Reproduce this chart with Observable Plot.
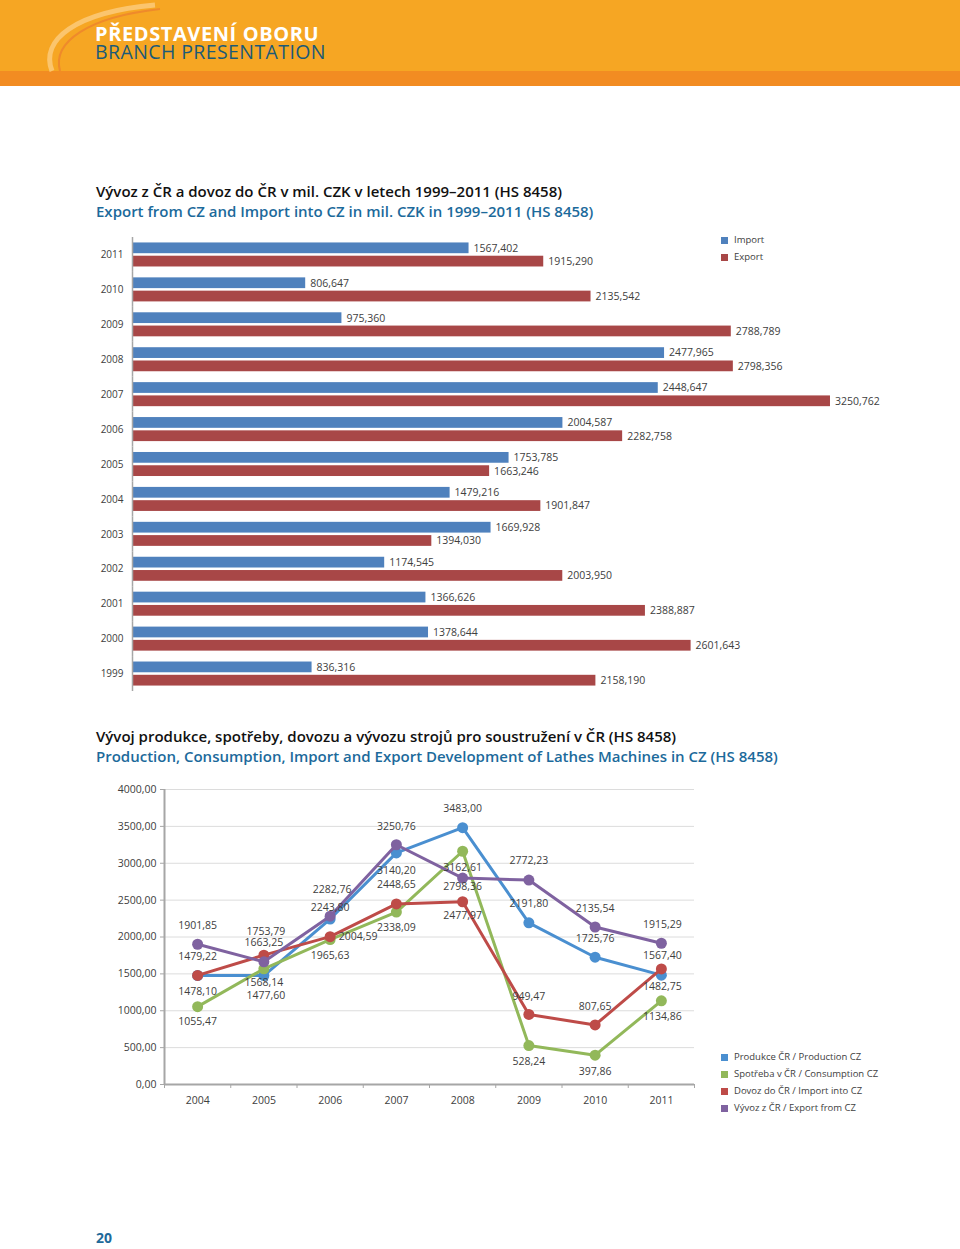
<!DOCTYPE html>
<html><head><meta charset="utf-8">
<script src="https://cdn.jsdelivr.net/npm/d3@7"></script>
<script src="https://cdn.jsdelivr.net/npm/@observablehq/plot@0.6"></script>
<style>
body{margin:0;background:#fff;font-family:"Open Sans",sans-serif;}
#page{position:relative;width:960px;height:1249px;overflow:hidden;background:#fff;}
.abs{position:absolute;white-space:nowrap;}
.band1{left:0;top:0;width:960px;height:71px;background:#F6A623;}
.band2{left:0;top:71px;width:960px;height:15px;background:#F28C22;}
.h1{left:95px;top:25px;font-size:20px;font-weight:700;color:#fff;line-height:18px;letter-spacing:0.6px;}
.h2{left:95px;top:43px;font-size:19.5px;font-weight:400;color:#1B5A78;line-height:18px;letter-spacing:0.4px;}
.t1{font-size:15px;font-weight:600;color:#111;line-height:20px;}
.t2{font-size:15px;font-weight:600;color:#1C6A9B;line-height:20px;}
.leg{font-size:9.5px;color:#404040;line-height:12px;}
.sw{position:absolute;width:7px;height:7px;}
.chart{position:absolute;left:0;}
</style></head><body><div id="page">
<div class="abs band1"></div>
<div class="abs band2"></div>
<svg class="abs" style="left:0;top:0" width="200" height="86">
  <path d="M52,71 C40,40 75,12 155,5" fill="none" stroke="#FBC56D" stroke-width="5"/>
  <path d="M60,71 C52,42 88,17 160,9" fill="none" stroke="#EF8A2B" stroke-width="2"/>
</svg>
<div class="abs h1">PŘEDSTAVENÍ OBORU</div>
<div class="abs h2">BRANCH PRESENTATION</div>

<div class="abs t1" style="left:96px;top:181px">Vývoz z ČR a dovoz do ČR v mil. CZK v letech 1999–2011 (HS 8458)</div>
<div class="abs t2" style="left:96px;top:201px">Export from CZ and Import into CZ in mil. CZK in 1999–2011 (HS 8458)</div>
<div id="bar" class="chart" style="top:230px"></div>
<div id="barLegend"></div>

<div class="abs t1" style="left:96px;top:726px">Vývoj produkce, spotřeby, dovozu a vývozu strojů pro soustružení v ČR (HS 8458)</div>
<div class="abs t2" style="left:96px;top:746px">Production, Consumption, Import and Export Development of Lathes Machines in CZ (HS 8458)</div>
<div id="line" class="chart" style="top:770px"></div>
<div id="lineLegend"></div>

<div class="abs" style="left:96px;top:1228px;font-size:14px;font-weight:700;color:#1F6A9A;line-height:20px">20</div>
</div>
<script>
// ---------- data: bar chart ----------
const barYears = [1999, 2000, 2001, 2002, 2003, 2004, 2005, 2006, 2007, 2008, 2009, 2010, 2011];
const barSeries = ["Import", "Export"];
const importValues = [836.316, 1378.644, 1366.626, 1174.545, 1669.928, 1479.216, 1753.785, 2004.587, 2448.647, 2477.965, 975.360, 806.647, 1567.402];
const exportValues = [2158.190, 2601.643, 2388.887, 2003.950, 1394.030, 1901.847, 1663.246, 2282.758, 3250.762, 2798.356, 2788.789, 2135.542, 1915.290];
const barColors = ["#4F81BD", "#A84747"];

// ---------- data: line chart ----------
const lineYears = [2004, 2005, 2006, 2007, 2008, 2009, 2010, 2011];
const production = [1478.10, 1477.60, 2243.80, 3140.20, 3483.00, 2191.80, 1725.76, 1482.75];
const consumption = [1055.47, 1568.14, 1965.63, 2338.09, 3162.61, 528.24, 397.86, 1134.86];
const importCZ = [1479.22, 1753.79, 2004.59, 2448.65, 2477.97, 949.47, 807.65, 1567.40];
const exportCZ = [1901.85, 1663.25, 2282.76, 3250.76, 2798.36, 2772.23, 2135.54, 1915.29];
const lineNames = ["Produkce ČR / Production CZ", "Spotřeba v ČR / Consumption CZ", "Dovoz do ČR / Import into CZ", "Vývoz z ČR / Export from CZ"];
const yTicks = [0, 500, 1000, 1500, 2000, 2500, 3000, 3500, 4000];

// ---------- styling (label placement, colours) ----------
const lineColors = ["#4A8FD0", "#92B85A", "#BE4B48", "#7F62A0"];
const labelDy = [
  [16, 20, -11, 18, -19, -19, -19, 11],
  [15, 14, 16, 16, 16, 16, 16, 16],
  [-19, -24, 0, -19, 14, -18, -18, -13],
  [-19, -19, -27, -18, 9, -19, -18, -19]
];
const labelDx = [
  [0, 2, 0, 0, 0, 0, 0, 1],
  [0, 0, 0, 0, 0, 0, 0, 1],
  [0, 2, 28, 0, 0, 0, 0, 1],
  [0, 0, 2, 0, 0, 0, 0, 1]
];

const loc = d3.formatLocale({decimal: ",", thousands: "", grouping: [3], currency: ["", ""]});
const fmt3 = loc.format(".3f");
const fmt2 = loc.format(".2f");
const FONT = "Open Sans";

// ---------- bar chart ----------
const barData = barYears.flatMap((yr, i) => [
  {year: yr, series: "Import", value: importValues[i]},
  {year: yr, series: "Export", value: exportValues[i]}
]);
const barChart = Plot.plot({
  width: 960, height: 465,
  marginLeft: 132, marginRight: 76.5, marginTop: 7, marginBottom: 4,
  style: {fontFamily: FONT, fontSize: "10px", color: "#404040", background: "transparent", overflow: "visible"},
  x: {domain: [0, 3500], axis: null},
  y: {domain: barSeries, paddingInner: 0.19, paddingOuter: 0.41, round: false, axis: null},
  fy: {domain: [...barYears].reverse(), padding: 0, round: false, axis: "left", tickSize: 0, tickPadding: 9, label: null, tickFormat: d => String(d)},
  color: {domain: barSeries, range: barColors},
  marks: [
    Plot.barX(barData, {fy: "year", y: "series", x: "value", fill: "series"}),
    Plot.text(barData, {fy: "year", y: "series", x: "value", text: d => fmt3(d.value), textAnchor: "start", dx: 4.5, fill: "#404040", fontSize: 10.5}),
    Plot.ruleX([0], {stroke: "#A6A6A6", strokeWidth: 1.5})
  ]
});
document.getElementById("bar").appendChild(barChart);

// ---------- line chart ----------
const seriesValues = [production, consumption, importCZ, exportCZ];
const xDomain = [lineYears[0] - 0.5, lineYears[lineYears.length - 1] + 0.5];
const xBoundaries = lineYears.map(y => y - 0.5).concat([xDomain[1]]);
const seriesMarks = [];
const labelMarks = [];
seriesValues.forEach((vals, s) => {
  const rows = lineYears.map((yr, i) => ({year: yr, value: vals[i], series: lineNames[s]}));
  seriesMarks.push(Plot.line(rows, {x: "year", y: "value", stroke: lineColors[s], strokeWidth: 3, strokeLinejoin: "round"}));
  seriesMarks.push(Plot.dot(rows, {x: "year", y: "value", fill: lineColors[s], r: 5.5}));
  rows.forEach((r, i) => {
    labelMarks.push(Plot.text([r], {x: "year", y: "value", text: d => fmt2(d.value), dy: labelDy[s][i], dx: labelDx[s][i], fill: "#404040", fontSize: 10.5}));
  });
});
const lineChart = Plot.plot({
  width: 960, height: 345,
  marginLeft: 164, marginRight: 266, marginTop: 19, marginBottom: 31,
  style: {fontFamily: FONT, fontSize: "10.5px", color: "#404040", background: "transparent", overflow: "visible"},
  x: {domain: xDomain, axis: null},
  y: {domain: [0, 4000], axis: null},
  marks: [
    Plot.ruleY(yTicks.filter(v => v > 0), {stroke: "#DCDCDC", strokeWidth: 1}),
    Plot.axisY({ticks: yTicks, tickFormat: fmt2, tickSize: 4, tickPadding: 4, stroke: "#A6A6A6", fill: "#404040", label: null}),
    Plot.axisX({ticks: xBoundaries, tickFormat: () => "", tickSize: 4, stroke: "#A6A6A6", label: null}),
    Plot.axisX({ticks: lineYears, tickFormat: d => String(d), tickSize: 0, tickPadding: 12, fill: "#404040", fontSize: 10.5, label: null}),
    Plot.ruleY([0], {stroke: "#A6A6A6", strokeWidth: 2}),
    Plot.ruleX([xDomain[0]], {stroke: "#A6A6A6", strokeWidth: 2}),
    ...seriesMarks,
    ...labelMarks
  ]
});
document.getElementById("line").appendChild(lineChart);

// ---------- legends ----------
function legend(container, names, colors, left, top, step) {
  const el = document.getElementById(container);
  names.forEach((n, i) => {
    const cy = top + i * step;
    const sw = document.createElement("div");
    sw.className = "sw";
    sw.style.left = left + "px";
    sw.style.top = (cy - 3.5) + "px";
    sw.style.background = colors[i];
    el.appendChild(sw);
    const t = document.createElement("div");
    t.className = "abs leg";
    t.style.left = (left + 13) + "px";
    t.style.top = (cy - 6.5) + "px";
    t.textContent = n;
    el.appendChild(t);
  });
}
legend("barLegend", barSeries, barColors, 721, 240, 17);
legend("lineLegend", lineNames, lineColors, 721, 1057, 17.3);
</script>
</body></html>
